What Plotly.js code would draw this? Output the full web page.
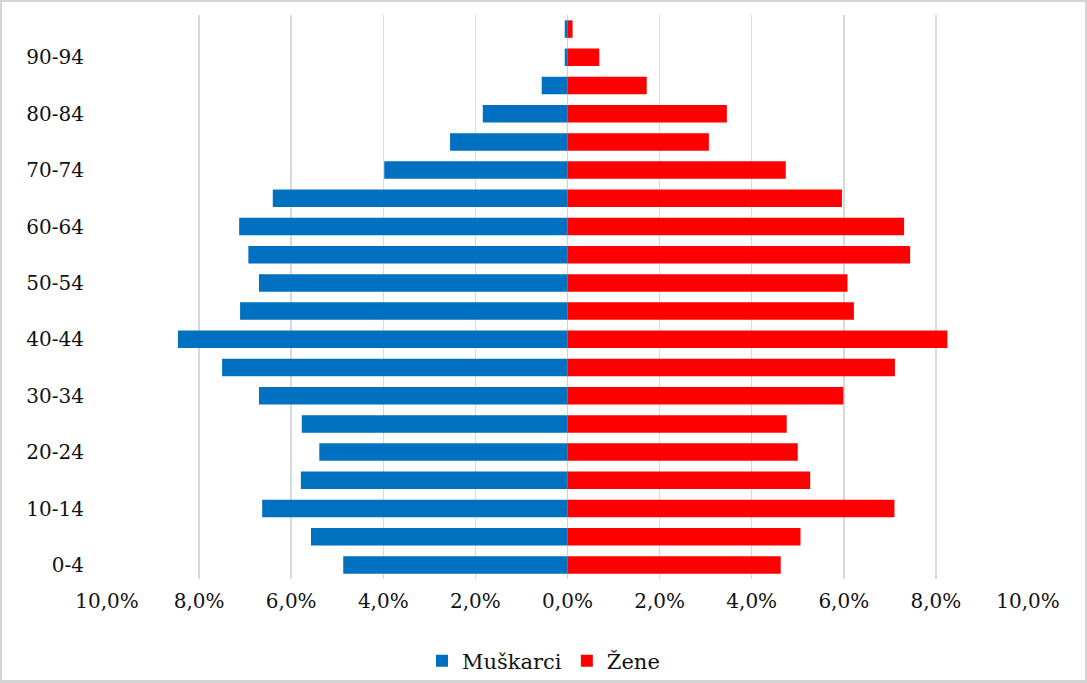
<!DOCTYPE html>
<html>
<head>
<meta charset="utf-8">
<script src="https://cdn.plot.ly/plotly-3.0.1.min.js"></script>
<style>
  html, body { margin: 0; padding: 0; background: #fff; }
  #wrap { position: relative; width: 1087px; height: 683px; }
  #chart { width: 1087px; height: 683px; }
  #frame { position: absolute; left: 0; top: 0; width: 1087px; height: 683px; box-sizing: border-box;
           border: 2px solid #d4d4d4; border-bottom-width: 3px; pointer-events: none; }
</style>
</head>
<body>
<div id="wrap"><div id="chart"></div><div id="frame"></div></div>
<script>
// Age groups, bottom to top
const ageGroups = ['0-4','5-9','10-14','15-19','20-24','25-29','30-34','35-39','40-44','45-49',
                   '50-54','55-59','60-64','65-69','70-74','75-79','80-84','85-89','90-94','95+'];
// Share of population (%)
const muskarci = [4.87, 5.57, 6.63, 5.79, 5.39, 5.77, 6.70, 7.50, 8.46, 7.11,
                  6.70, 6.93, 7.13, 6.40, 3.98, 2.55, 1.84, 0.56, 0.06, 0.06];
const zene     = [4.63, 5.06, 7.10, 5.27, 5.00, 4.76, 5.99, 7.11, 8.25, 6.22,
                  6.08, 7.44, 7.31, 5.96, 4.74, 3.07, 3.46, 1.72, 0.69, 0.11];
// Axis ticks
const xTickVals = [-10, -8, -6, -4, -2, 0, 2, 4, 6, 8, 10];
const xTickText = ['10,0%','8,0%','6,0%','4,0%','2,0%','0,0%','2,0%','4,0%','6,0%','8,0%','10,0%'];
const yTickVals = ['0-4','10-14','20-24','30-34','40-44','50-54','60-64','70-74','80-84','90-94'];

const font = '"DejaVu Serif", "Liberation Serif", serif';

const traces = [
  { type: 'bar', orientation: 'h', name: 'Muškarci', y: ageGroups, x: muskarci.map(v => -v),
    marker: { color: '#0070C0' }, hoverinfo: 'y+text', text: muskarci.map(v => v + '%'), textposition: 'none' },
  { type: 'bar', orientation: 'h', name: 'Žene', y: ageGroups, x: zene,
    marker: { color: '#FF0000' }, hoverinfo: 'y+text', text: zene.map(v => v + '%'), textposition: 'none' }
];

const layout = {
  width: 1087, height: 683,
  margin: { l: 107, r: 59, t: 15, b: 104 },
  paper_bgcolor: '#ffffff', plot_bgcolor: '#ffffff',
  barmode: 'relative', bargap: 0.38,
  font: { family: font, size: 20, color: '#111111' },
  xaxis: {
    range: [-10, 10], tickvals: xTickVals, ticktext: xTickText,
    showgrid: true, gridcolor: '#d9d9d9', gridwidth: 1.5,
    zeroline: true, zerolinecolor: '#d0d0d0', zerolinewidth: 1,
    showline: false, ticks: '', ticklabelstandoff: 8,
    tickfont: { family: font, size: 20, color: '#111111' }
  },
  yaxis: {
    type: 'category', categoryorder: 'array', categoryarray: ageGroups,
    tickvals: yTickVals, ticktext: yTickVals,
    showgrid: false, zeroline: false, showline: false, ticks: '',
    ticklabelstandoff: 22,
    tickfont: { family: font, size: 20, color: '#111111' }
  },
  showlegend: true,
  legend: {
    orientation: 'h', xref: 'container', yref: 'container', x: 0.5, xanchor: 'center',
    y: 0.032, yanchor: 'middle', font: { family: font, size: 21, color: '#111111' },
    itemwidth: 30, traceorder: 'normal'
  }
};

Plotly.newPlot('chart', traces, layout, { displayModeBar: false, staticPlot: true });
</script>
</body>
</html>
